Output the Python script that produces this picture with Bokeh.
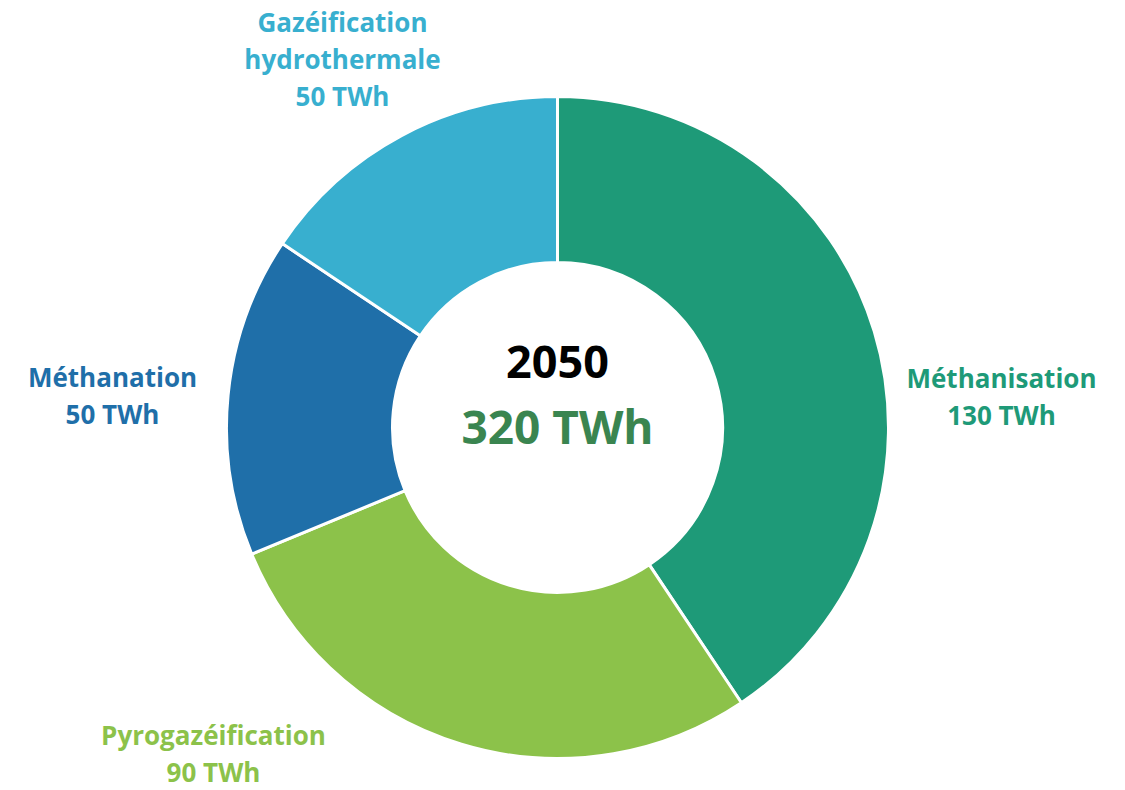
import math
from bokeh.plotting import figure
from bokeh.models import Range1d, ColumnDataSource
from bokeh.core.properties import value
from bokeh.embed import file_html
from bokeh.resources import INLINE

# ---- data ----
names = ["Méthanisation", "Pyrogazéification", "Méthanation", "Gazéification\nhydrothermale"]
values_twh = [130, 90, 50, 50]
colors = ["#1E9A78", "#8CC24A", "#1F6FA9", "#38AFCF"]
center_year = "2050"
unit = "TWh"

# ---- layout ----
W, H = 1125, 790
CX, CY = 557, -427          # donut centre (data units = screen px, y negated)
R_OUT, R_IN = 331, 165
FONT = value("Open Sans")
BASE_FIX = 0.39             # renderer baseline correction (in em)

LABEL_SIZE = 26
# label anchor positions (centre x, first baseline y) for each slice
label_pos = [(1001, -388), (213, -745), (112, -387), (342, -32)]
LINE_H = 37

p = figure(width=W, height=H, output_backend="svg", toolbar_location=None,
           x_range=Range1d(0, W), y_range=Range1d(-H, 0),
           x_axis_location=None, y_axis_location=None, min_border=0,
           background_fill_color="white", border_fill_color="white")
p.outline_line_color = None
p.grid.visible = False

total = sum(values_twh)
starts, ends = [], []
a = math.pi / 2
for v in values_twh:
    starts.append(a)
    a -= v / total * 2 * math.pi
    ends.append(a)

src = ColumnDataSource(dict(start=starts, end=ends, color=colors))
p.annular_wedge(x=CX, y=CY, inner_radius=R_IN, outer_radius=R_OUT,
                start_angle="start", end_angle="end", direction="clock",
                fill_color="color", line_color="white", line_width=3, source=src)

# slice labels
lx, ly, lt, lc = [], [], [], []
for name, v, col, (x0, y0) in zip(names, values_twh, colors, label_pos):
    lines = name.split("\n") + [f"{v} {unit}"]
    for i, line in enumerate(lines):
        lx.append(x0)
        ly.append(y0 - i * LINE_H + BASE_FIX * LABEL_SIZE)
        lt.append(line)
        lc.append(col)
p.text(x=lx, y=ly, text=lt, text_color=lc, text_font=FONT, text_font_style="bold",
       text_font_size=f"{LABEL_SIZE}px", text_align="center", text_baseline="alphabetic")

# centre text
p.text(x=[CX], y=[-379 + BASE_FIX * 45], text=[center_year], text_color="#000000", text_font=FONT,
       text_font_style="bold", text_font_size="45px", text_align="center",
       text_baseline="alphabetic")
p.text(x=[CX], y=[-443 + BASE_FIX * 46], text=[f"{total} {unit}"], text_color="#3A8550", text_font=FONT,
       text_font_style="bold", text_font_size="46px", text_align="center",
       text_baseline="alphabetic")

open("out.html", "w").write(file_html(p, INLINE))
